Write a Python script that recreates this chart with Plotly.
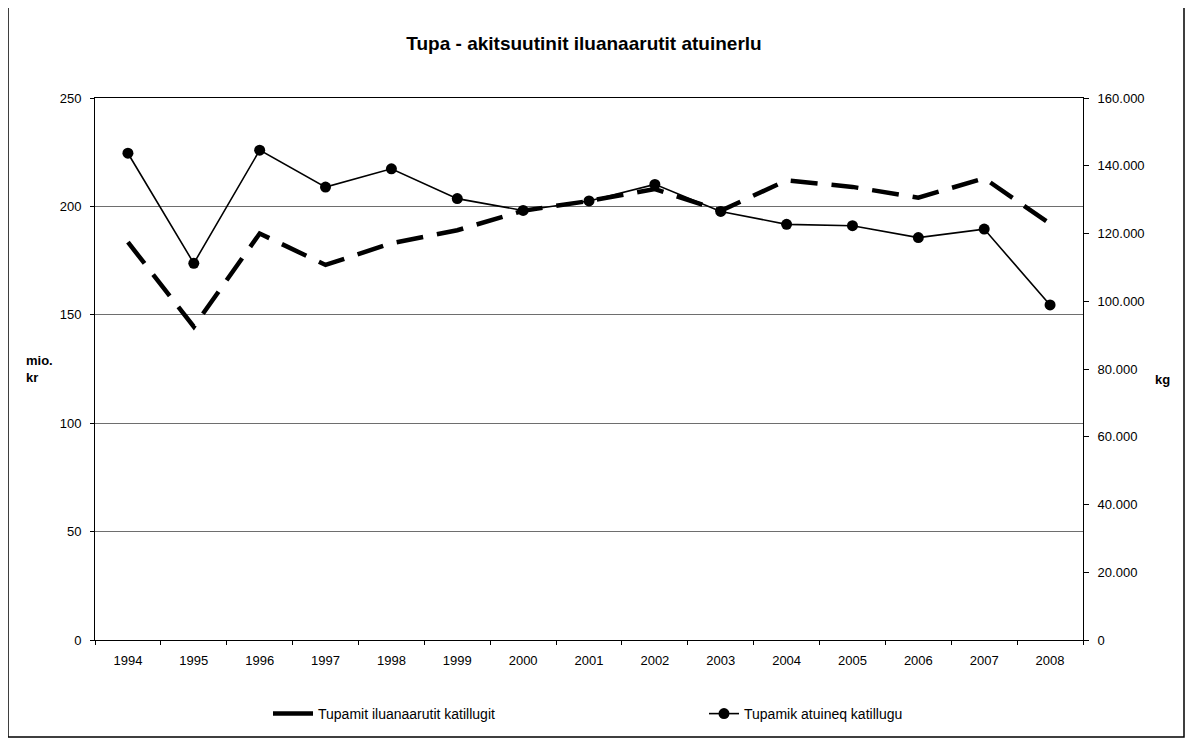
import plotly.graph_objects as go

years = ["1994", "1995", "1996", "1997", "1998", "1999", "2000", "2001",
         "2002", "2003", "2004", "2005", "2006", "2007", "2008"]
revenue_mio_kr = [183.5, 144.5, 187.5, 173, 183, 189, 198, 202.5,
                  208, 198, 212, 209, 204, 213, 192]
consumption_kg = [143700, 111200, 144600, 133700, 139100, 130300, 126800, 129600,
                  134500, 126500, 122700, 122300, 118800, 121300, 98900]

title_text = "Tupa - akitsuutinit iluanaarutit atuinerlu"
name_rev = "Tupamit iluanaarutit katillugit"
name_cons = "Tupamik atuineq katillugu"

FONT = "Liberation Sans, Arial, sans-serif"

fig = go.Figure()
fig.add_trace(go.Scatter(
    x=years, y=revenue_mio_kr, name=name_rev, mode="lines",
    line=dict(color="black", width=4.5, dash="27px,14px"),
    yaxis="y", showlegend=False,
))
# legend entry for the dashed series (solid thick swatch as in the original legend)
fig.add_trace(go.Scatter(
    x=[None], y=[None], name=name_rev, mode="lines",
    line=dict(color="black", width=4.5),
    yaxis="y", legend="legend", showlegend=True,
))
fig.add_trace(go.Scatter(
    x=years, y=consumption_kg, name=name_cons, mode="lines+markers",
    line=dict(color="black", width=1.6),
    marker=dict(color="black", size=11, symbol="circle"),
    yaxis="y2", legend="legend2",
))

W, H = 1194, 745
OFF = 8  # page body margin
PL, PR, PT, PB = 95, 1083, 98, 640  # plot area in page pixels
L = PL - OFF
T = PT - OFF
R = W - (PR - OFF)
B = H - (PB - OFF)
pw, ph = PR - PL, PB - PT

def px_x(p):
    return (p - PL) / pw

def px_y(p):
    return (PB - p) / ph

fig.update_layout(
    width=W, height=H,
    margin=dict(l=L, r=R, t=T, b=B, autoexpand=False),
    paper_bgcolor="white", plot_bgcolor="white",
    font=dict(family=FONT, size=13, color="black"),
    separators=",.",
    title=dict(text="<b>" + title_text + "</b>", x=px_x(584), xref="paper",
               xanchor="center", y=1 - (43 - OFF) / H, yanchor="middle",
               font=dict(size=19, family=FONT)),
    xaxis=dict(
        type="category", range=[-0.5, 14.5], tickson="boundaries",
        ticks="outside", ticklen=4, tickcolor="black",
        showline=True, linecolor="black", linewidth=1, mirror=True,
        showgrid=False, tickfont=dict(size=13), ticklabelstandoff=8,
    ),
    yaxis=dict(
        range=[0, 250], dtick=50, ticks="outside", ticklen=4, tickcolor="black",
        showline=True, linecolor="black", linewidth=1,
        showgrid=True, gridcolor="#6e6e6e", gridwidth=1,
        zeroline=False, tickfont=dict(size=13), ticklabelstandoff=6,
    ),
    yaxis2=dict(
        range=[0, 160000], dtick=20000, tickformat=",d", overlaying="y", side="right",
        ticks="outside", ticklen=5, tickcolor="black",
        showline=True, linecolor="black", linewidth=1,
        showgrid=False, zeroline=False, tickfont=dict(size=13), ticklabelstandoff=6,
    ),
    legend=dict(x=px_x(268), y=px_y(714), xanchor="left", yanchor="middle",
                orientation="h", font=dict(size=14, family=FONT), itemwidth=40,
                bgcolor="rgba(0,0,0,0)"),
    legend2=dict(x=px_x(704), y=px_y(714), xanchor="left", yanchor="middle",
                 orientation="h", font=dict(size=14, family=FONT),
                 bgcolor="rgba(0,0,0,0)"),
    showlegend=True,
)

fig.add_annotation(text="<b>mio.<br>kr</b>", xref="paper", yref="paper",
                   x=px_x(24), y=px_y(369), xanchor="left", yanchor="middle",
                   showarrow=False, align="left", font=dict(size=13, family=FONT))
fig.add_annotation(text="<b>kg</b>", xref="paper", yref="paper",
                   x=px_x(1153), y=px_y(379), xanchor="left", yanchor="middle",
                   showarrow=False, font=dict(size=13, family=FONT))

# outer chart border
fig.add_shape(type="rect", xref="paper", yref="paper",
              x0=px_x(8), x1=px_x(1184), y0=px_y(737), y1=px_y(4),
              line=dict(color="black", width=1.5), fillcolor="rgba(0,0,0,0)", layer="below")

fig.write_html("out.html")
